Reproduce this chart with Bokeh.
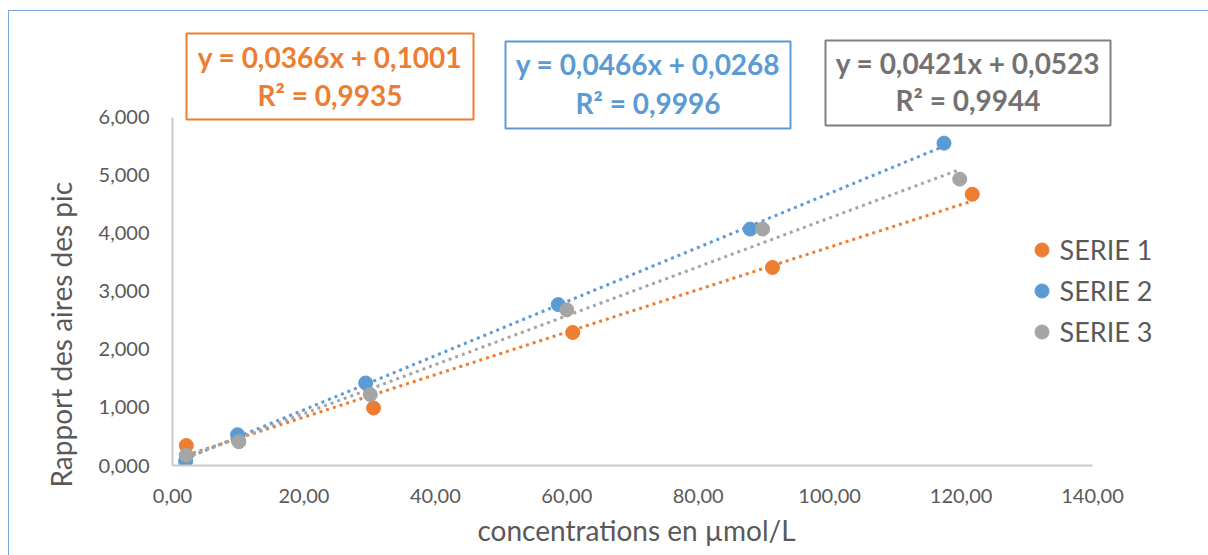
import numpy as np
from bokeh.plotting import figure
from bokeh.models import (Range1d, FixedTicker, Label, BoxAnnotation, Legend,
                          LegendItem, Title)
from bokeh.embed import file_html
from bokeh.resources import INLINE

# ---------------- data ----------------
series_names = ["SERIE 1", "SERIE 2", "SERIE 3"]
series_colors = ["#ED7D31", "#5B9BD5", "#A5A5A5"]

serie1_x = [2.1, 10.0, 30.6, 60.9, 91.3, 121.7]
serie1_y = [0.344, 0.44, 0.99, 2.29, 3.41, 4.67]
serie2_x = [2.0, 9.9, 29.4, 58.7, 87.9, 117.4]
serie2_y = [0.074, 0.53, 1.42, 2.77, 4.07, 5.55]
serie3_x = [2.1, 10.1, 30.1, 60.0, 89.8, 119.8]
serie3_y = [0.177, 0.41, 1.22, 2.68, 4.07, 4.93]

trend_slopes = [0.0366, 0.0466, 0.0421]
trend_intercepts = [0.1001, 0.0268, 0.0523]
trend_r2 = [0.9935, 0.9996, 0.9944]

x_ticks = [0, 20, 40, 60, 80, 100, 120, 140]
x_tick_labels = ["0,00", "20,00", "40,00", "60,00", "80,00", "100,00", "120,00", "140,00"]
y_ticks = [0, 1, 2, 3, 4, 5, 6]
y_tick_labels = ["0,000", "1,000", "2,000", "3,000", "4,000", "5,000", "6,000"]

x_title = "concentrations en µmol/L"
y_title = "Rapport des aires des pic"

FONT = "Lato"
TEXT_GREY = "#595959"

series_x = [serie1_x, serie2_x, serie3_x]
series_y = [serie1_y, serie2_y, serie3_y]

# ---------------- layout (page pixels) ----------------
OX, OY = 8, 10                 # figure offset on the page (chart border corner)
W, H = 1200, 545
X0_PX, X140_PX = 171, 1091     # page x of 0 and 140
Y0_PX, Y6_PX = 464, 115.5      # page y of 0 and 6
px_x = (X140_PX - X0_PX) / 140.0
px_y = (Y0_PX - Y6_PX) / 6.0
x_end = (OX + W - X0_PX) / px_x
y_end = (Y0_PX - OY) / px_y

p = figure(width=W, height=H, output_backend="svg", toolbar_location=None,
           x_range=Range1d(0, x_end), y_range=Range1d(0, y_end),
           min_border_left=X0_PX - OX, min_border_right=0,
           min_border_top=0, min_border_bottom=OY + H - Y0_PX)
p.margin = (OY, 0, 0, OX)
p.styles = {"border-top": "1.5px solid #7AA7DA", "border-left": "1.5px solid #7AA7DA"}
p.grid.visible = False
p.outline_line_color = None
p.background_fill_color = "white"
p.border_fill_color = "white"

for ax in (p.xaxis[0], p.yaxis[0]):
    ax.axis_line_color = "#C9C9C9"
    ax.axis_line_width = 2
    ax.major_tick_line_color = None
    ax.minor_tick_line_color = None
    ax.major_tick_in = 0
    ax.major_tick_out = 0
    ax.minor_tick_in = 0
    ax.minor_tick_out = 0
    ax.major_label_text_font = FONT
    ax.major_label_text_font_size = "20px"
    ax.major_label_text_color = TEXT_GREY

p.xaxis.bounds = (0, 140)
p.yaxis.bounds = (0, 6)
p.xaxis.ticker = FixedTicker(ticks=x_ticks)
p.xaxis.major_label_overrides = {t: l for t, l in zip(x_ticks, x_tick_labels)}
p.yaxis.ticker = FixedTicker(ticks=y_ticks)
p.yaxis.major_label_overrides = {t: l for t, l in zip(y_ticks, y_tick_labels)}
p.xaxis.major_label_standoff = 23
p.yaxis.major_label_standoff = 23

# axis titles as side-panel titles (placed like the reference)
p.add_layout(Title(text=x_title, align="left", offset=476 - X0_PX, standoff=10,
                   text_font=FONT, text_font_size="28px", text_font_style="normal",
                   text_color=TEXT_GREY), "below")
p.add_layout(Title(text=y_title, align="left", offset=Y0_PX - 486, standoff=36,
                   text_font=FONT, text_font_size="28px", text_font_style="normal",
                   text_color=TEXT_GREY), "left")

# trendlines
for xs, m, b, c in zip(series_x, trend_slopes, trend_intercepts, series_colors):
    tx = [min(xs), max(xs)]
    ty = [m * v + b for v in tx]
    p.line(tx, ty, line_color=c, line_width=3, line_dash="3 4")

# markers
renderers = []
for xs, ys, c in zip(series_x, series_y, series_colors):
    r = p.scatter(xs, ys, size=14, fill_color=c, line_color=c)
    renderers.append(r)

legend = Legend(items=[LegendItem(label=n, renderers=[r]) for n, r in zip(series_names, renderers)],
                location=(1022.5 - X0_PX, Y0_PX - 347.5), orientation="vertical",
                glyph_width=35, glyph_height=35, label_standoff=1, spacing=6,
                padding=0, margin=0, border_line_alpha=0, background_fill_alpha=0,
                label_text_font=FONT, label_text_font_size="27px",
                label_text_color=TEXT_GREY)
p.add_layout(legend)

# equation boxes (page pixels)
boxes = [
    dict(l=184, r=471, t=31, b=117, line="#ED7D31", text="#ED7D31", b1=54, b2=92),
    dict(l=503, r=788, t=39, b=126, line="#5B9BD5", text="#5B9BD5", b1=61, b2=100),
    dict(l=823, r=1108, t=38, b=123, line="#7F7F7F", text="#767171", b1=60, b2=97),
]
for bx, m, b, r2 in zip(boxes, trend_slopes, trend_intercepts, trend_r2):
    p.add_layout(BoxAnnotation(left=bx["l"] - OX, right=bx["r"] - OX,
                               top=bx["t"] - OY, bottom=bx["b"] - OY,
                               left_units="canvas", right_units="canvas",
                               top_units="canvas", bottom_units="canvas",
                               fill_alpha=0, line_color=bx["line"], line_alpha=1,
                               line_width=2))
    cx = (bx["l"] + bx["r"]) / 2 - OX
    line1 = ("y = %.4fx + %.4f" % (m, b)).replace(".", ",")
    line2 = ("R² = %.4f" % r2).replace(".", ",")
    for txt, yb in ((line1, bx["b1"]), (line2, bx["b2"])):
        p.add_layout(Label(x=cx, y=yb - OY, x_units="canvas", y_units="canvas", text=txt,
                           text_align="center", text_baseline="alphabetic",
                           text_font=FONT, text_font_size="28px", text_font_style="bold",
                           text_color=bx["text"]))

open("out.html", "w").write(file_html(p, INLINE))
